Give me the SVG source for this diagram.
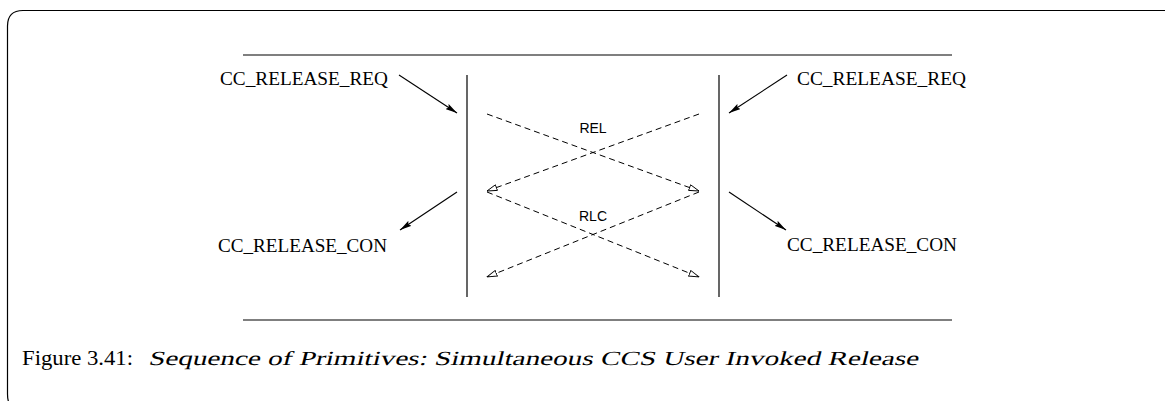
<svg xmlns="http://www.w3.org/2000/svg" width="1165" height="401" viewBox="0 0 1165 401">
<style>
.ln{stroke:#000;stroke-width:1.2;fill:none}
.ar{stroke:#000;stroke-width:1.1;fill:none;marker-end:url(#solid)}
.ds{stroke:#000;stroke-width:1;fill:none;stroke-dasharray:6 4;marker-end:url(#hollow)}
.lbl{font-family:"Liberation Serif","Times New Roman",serif;font-size:19px;fill:#000}
.msg{font-family:"Liberation Sans",Arial,sans-serif;font-size:14px;fill:#000;text-anchor:middle}
.cap{font-family:"Liberation Serif","Times New Roman",serif;font-size:20px;fill:#000}
</style>
<defs>
<marker id="solid" viewBox="0 0 12 6" refX="12" refY="3" markerWidth="12" markerHeight="6" markerUnits="userSpaceOnUse" orient="auto">
<path d="M0,0 L12,3 L0,6 L2,3 Z" fill="#000"/>
</marker>
<marker id="hollow" viewBox="0 0 11 7" refX="10.5" refY="3.5" markerWidth="11" markerHeight="7" markerUnits="userSpaceOnUse" orient="auto">
<path d="M0.5,0.5 L10.5,3.5 L0.5,6.5 Z" fill="#fff" stroke="#000" stroke-width="0.9"/>
</marker>
</defs>
<path id="frame" d="M1165,10.5 H23 Q7.5,10.5 7.5,26 V394 Q7.5,401 10,405" class="ln" stroke-width="1.3"/>
<g id="boundaries">
<line class="ln" x1="243" y1="55" x2="952" y2="55"/>
<line class="ln" x1="243" y1="320" x2="952" y2="320"/>
</g>
<g id="left-entity"><line class="ln" x1="467" y1="75" x2="467" y2="297"/></g>
<g id="right-entity"><line class="ln" x1="719" y1="75" x2="719" y2="297"/></g>
<g id="label-req-left"><text class="lbl" x="220" y="85" textLength="168" lengthAdjust="spacingAndGlyphs">CC_RELEASE_REQ</text></g>
<g id="label-req-right"><text class="lbl" x="797" y="85" textLength="169" lengthAdjust="spacingAndGlyphs">CC_RELEASE_REQ</text></g>
<g id="label-con-left"><text class="lbl" x="218" y="252" textLength="169" lengthAdjust="spacingAndGlyphs">CC_RELEASE_CON</text></g>
<g id="label-con-right"><text class="lbl" x="787" y="251" textLength="170" lengthAdjust="spacingAndGlyphs">CC_RELEASE_CON</text></g>
<g id="connectors">
<line class="ar" x1="399" y1="75" x2="457" y2="113"/>
<line class="ar" x1="787" y1="75" x2="729" y2="113"/>
<line class="ar" x1="457" y1="192" x2="400" y2="230"/>
<line class="ar" x1="729" y1="192" x2="786" y2="230"/>
<line class="ds" x1="487" y1="114" x2="699" y2="191"/>
<line class="ds" x1="699" y1="114" x2="487" y2="191"/>
<line class="ds" x1="487" y1="192" x2="699" y2="277"/>
<line class="ds" x1="699" y1="192" x2="487" y2="277"/>
</g>
<g id="msg-labels">
<text class="msg" x="593" y="133">REL</text>
<text class="msg" x="593" y="221">RLC</text>
</g>
<g id="caption">
<text class="cap" x="22" y="365" textLength="111" lengthAdjust="spacingAndGlyphs">Figure 3.41:</text>
<text class="cap" transform="translate(148,365) skewX(-14)" x="0" y="0" textLength="770" lengthAdjust="spacingAndGlyphs">Sequence of Primitives: Simultaneous CCS User Invoked Release</text>
</g>
</svg>
